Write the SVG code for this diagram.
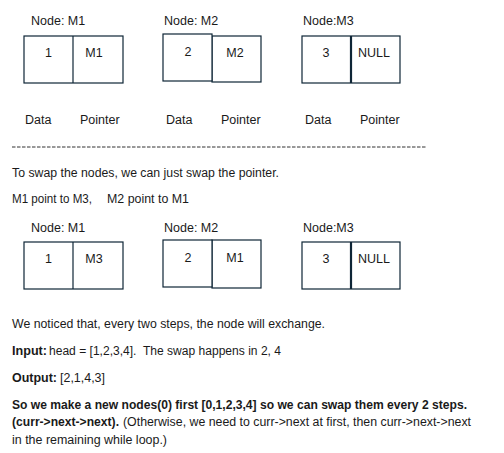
<svg xmlns="http://www.w3.org/2000/svg" width="504" height="453" viewBox="0 0 504 453">
<style>
text{font-family:"Liberation Sans",Arial,sans-serif;font-size:12.5px;fill:#1a1a1a}
.b{font-weight:bold}
.c{text-anchor:middle}
.box{fill:#ffffff;stroke:#0e2536;stroke-width:1.2}
.div{stroke:#0e2536;stroke-width:1.2}
.thick{stroke:#0e2536;stroke-width:2.2}
</style>
<rect width="504" height="453" fill="#ffffff"/>

<g id="row1">
  <g id="node-m1-a">
    <text x="31" y="25">Node: M1</text>
    <rect class="box" x="24" y="36" width="99" height="47"/>
    <line class="div" x1="73" y1="36" x2="73" y2="83"/>
    <text class="c" x="48.5" y="57">1</text>
    <text class="c" x="94" y="57">M1</text>
    <text x="25" y="124">Data</text>
    <text x="80" y="124">Pointer</text>
  </g>
  <g id="node-m2-a">
    <text x="164" y="25">Node: M2</text>
    <rect class="box" x="212" y="36" width="49" height="46"/>
    <rect class="box" x="163" y="34" width="49" height="47"/>
    <text class="c" x="188" y="56">2</text>
    <text class="c" x="235" y="57">M2</text>
    <text x="166" y="124">Data</text>
    <text x="221" y="124">Pointer</text>
  </g>
  <g id="node-m3-a">
    <text x="303" y="25">Node:M3</text>
    <rect class="box" x="302" y="36" width="98" height="47"/>
    <line class="thick" x1="351" y1="36" x2="351" y2="83"/>
    <text class="c" x="326" y="57">3</text>
    <text class="c" x="374" y="57">NULL</text>
    <text x="305" y="124">Data</text>
    <text x="360" y="124">Pointer</text>
  </g>
</g>

<line x1="12" y1="147" x2="427" y2="147" stroke="#333" stroke-width="1" stroke-dasharray="3.5 1.5"/>

<text x="12" y="177" textLength="267" lengthAdjust="spacingAndGlyphs">To swap the nodes, we can just swap the pointer.</text>
<text x="12" y="203" textLength="80" lengthAdjust="spacingAndGlyphs">M1 point to M3,</text>
<text x="107" y="203" textLength="82" lengthAdjust="spacingAndGlyphs">M2 point to M1</text>

<g id="row2">
  <g id="node-m1-b">
    <text x="31" y="232">Node: M1</text>
    <rect class="box" x="24" y="242" width="99" height="47"/>
    <line class="div" x1="73" y1="242" x2="73" y2="289"/>
    <text class="c" x="48.5" y="263">1</text>
    <text class="c" x="94" y="263">M3</text>
  </g>
  <g id="node-m2-b">
    <text x="164" y="232">Node: M2</text>
    <rect class="box" x="212" y="240" width="49" height="48"/>
    <rect class="box" x="163" y="240" width="49" height="47"/>
    <text class="c" x="188" y="262">2</text>
    <text class="c" x="235" y="262">M1</text>
  </g>
  <g id="node-m3-b">
    <text x="303" y="232">Node:M3</text>
    <rect class="box" x="302" y="242" width="98" height="47"/>
    <line class="thick" x1="351" y1="242" x2="351" y2="289"/>
    <text class="c" x="326" y="263">3</text>
    <text class="c" x="374" y="263">NULL</text>
  </g>
</g>

<g id="notes">
  <text x="12" y="328" textLength="313" lengthAdjust="spacingAndGlyphs">We noticed that, every two steps, the node will exchange.</text>
  <text class="b" x="12" y="355" textLength="35" lengthAdjust="spacingAndGlyphs">Input:</text>
  <text x="49" y="355" textLength="232" lengthAdjust="spacingAndGlyphs">head = [1,2,3,4].&#160; The swap happens in 2, 4</text>
  <text class="b" x="12" y="382" textLength="45" lengthAdjust="spacingAndGlyphs">Output:</text>
  <text x="60" y="382" textLength="45" lengthAdjust="spacingAndGlyphs">[2,1,4,3]</text>
  <text class="b" x="12" y="409" textLength="455" lengthAdjust="spacingAndGlyphs">So we make a new nodes(0) first [0,1,2,3,4] so we can swap them every 2 steps.</text>
  <text class="b" x="12" y="426" textLength="107" lengthAdjust="spacingAndGlyphs">(curr-&gt;next-&gt;next).</text>
  <text x="123" y="426" textLength="348" lengthAdjust="spacingAndGlyphs">(Otherwise, we need to curr-&gt;next at first, then curr-&gt;next-&gt;next</text>
  <text x="12" y="444" textLength="155" lengthAdjust="spacingAndGlyphs">in the remaining while loop.)</text>
</g>
</svg>
